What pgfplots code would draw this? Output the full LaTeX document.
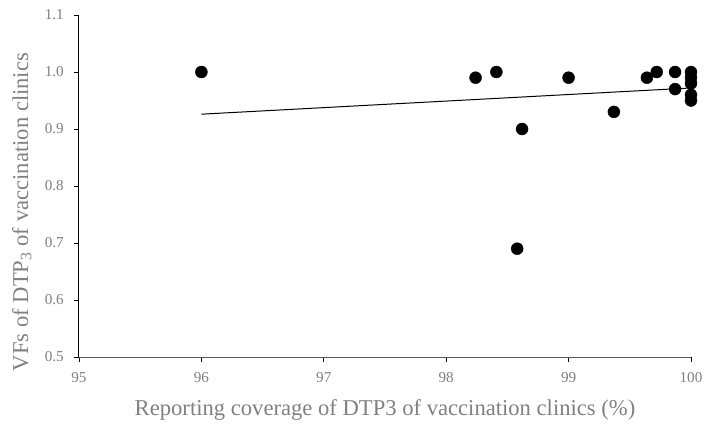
\documentclass[border=0pt]{standalone}
\usepackage{pgfplots}
\pgfplotsset{compat=1.18}
\usepackage{fontspec}
\setmainfont{Liberation Serif}
\definecolor{txtgray}{RGB}{128,128,128}
\definecolor{axgray}{RGB}{90,90,90}
\begin{document}
\begin{tikzpicture}[x=1bp,y=1bp]
\useasboundingbox (-79bp,-72bp) rectangle (634bp,342bp+15bp);
\begin{axis}[
  at={(0,0)}, anchor=south west,
  scale only axis,
  width=612bp, height=342bp,
  xmin=95, xmax=100, ymin=0.5, ymax=1.1,
  axis x line*=bottom, axis y line*=left,
  x axis line style={axgray, line width=1bp, -},
  y axis line style={black, line width=1bp, -},
  xtick={95,96,97,98,99,100},
  ytick={0.5,0.6,0.7,0.8,0.9,1.0,1.1},
  tick align=outside,
  major tick length=5bp,
  every tick/.style={black, line width=0.8bp},
  /pgf/number format/assume math mode=true,
  ticklabel style={font=\fontsize{15.2}{18}\selectfont, text=txtgray, inner sep=0pt},
  xticklabel style={anchor=north, yshift=-10bp},
  yticklabel style={anchor=east, xshift=-10bp, /pgf/number format/.cd, fixed, fixed zerofill, precision=1},
  xlabel={Reporting coverage of DTP3 of vaccination clinics (\%)},
  ylabel={VFs of DTP\textsubscript{3} of vaccination clinics},
  label style={font=\fontsize{22.7}{26}\selectfont, text=txtgray, inner sep=0pt},
  xlabel style={at={(axis description cs:0.5,-0.1696)}, anchor=base},
  ylabel style={at={(axis description cs:-0.0833,0.424)}, anchor=base, rotate=0},
  clip=false,
]
\addplot[only marks, mark=*, mark size=6bp, black] coordinates {
 (96.00,1.00) (98.24,0.99) (98.41,1.00) (98.58,0.69) (98.62,0.90)
 (99.00,0.99) (99.37,0.93) (99.64,0.99) (99.72,1.00) (99.87,1.00)
 (99.87,0.97) (100,1.00) (100,0.99) (100,0.98) (100,0.96) (100,0.95)
};
\addplot[black, line width=1bp] coordinates {(96,0.926) (100,0.972)};
\end{axis}
\end{tikzpicture}
\end{document}
